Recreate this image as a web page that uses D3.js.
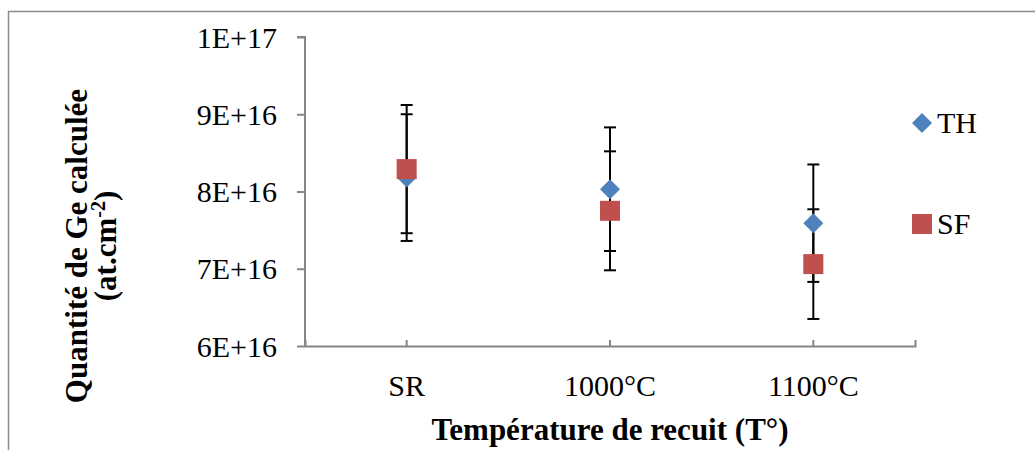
<!DOCTYPE html>
<html>
<head>
<meta charset="utf-8">
<script src="https://cdn.jsdelivr.net/npm/d3@7"></script>
<style>
  html, body { margin: 0; padding: 0; background: #fff; }
  svg { display: block; }
  text { font-family: "Liberation Serif", "Times New Roman", serif; fill: #000; }
</style>
</head>
<body>
<svg id="chart" width="1035" height="450"></svg>
<script>
// ---- data ----
const categories = ["SR", "1000°C", "1100°C"];
const seriesNames = ["TH", "SF"];
const thValues = [8.18e16, 8.03e16, 7.59e16];
const thErrors = [0.82e16, 0.80e16, 0.76e16];
const sfValues = [8.29e16, 7.75e16, 7.06e16];
const sfErrors = [0.83e16, 0.77e16, 0.71e16];
const yTicks = [6e16, 7e16, 8e16, 9e16, 1e17];
const yTickLabels = ["6E+16", "7E+16", "8E+16", "9E+16", "1E+17"];
const xTitle = "Température de recuit (T°)";
const yTitleLine1 = "Quantité de Ge calculée";

const colors = { TH: "#4F81BD", SF: "#C0504D" };

const svg = d3.select("#chart");

// outer frame
svg.append("rect")
  .attr("x", 8.5).attr("y", 11.5)
  .attr("width", 1100).attr("height", 500)
  .attr("fill", "none").attr("stroke", "#8c8c8c").attr("stroke-width", 1.5);

const plot = { left: 305, right: 915, top: 37, bottom: 346 };

const x = d3.scaleBand().domain(categories).range([plot.left, plot.right]);
const y = d3.scaleLinear().domain([6e16, 1e17]).range([plot.bottom, plot.top]);

// y axis
const yAxis = d3.axisLeft(y).tickValues(yTicks)
  .tickFormat((d, i) => yTickLabels[i]).tickSize(8).tickPadding(20);
const gy = svg.append("g").attr("transform", `translate(${plot.left},0)`).call(yAxis);
gy.select(".domain").attr("stroke", "#868686").attr("stroke-width", 2)
  .attr("d", `M-8,${plot.top}H0V${plot.bottom}`);
gy.selectAll(".tick line").attr("stroke", "#868686").attr("stroke-width", 2);
gy.selectAll(".tick text").attr("font-size", 30).attr("font-family", "Liberation Serif")
  .attr("dy", "0.34em");

// x axis
const xAxis = d3.axisBottom(x).tickSize(-6).tickSizeOuter(-6).tickPadding(36);
const gx = svg.append("g").attr("transform", `translate(0,${plot.bottom})`).call(xAxis);
gx.select(".domain").attr("stroke", "#868686").attr("stroke-width", 2);
gx.selectAll(".tick line").attr("stroke", "#868686").attr("stroke-width", 2);
gx.selectAll(".tick text").attr("font-size", 30).attr("font-family", "Liberation Serif")
  .attr("y", 50).attr("dy", 0);

// series data
const series = [
  { name: "TH", values: thValues, errors: thErrors },
  { name: "SF", values: sfValues, errors: sfErrors }
];

const cx = c => x(c) + x.bandwidth() / 2;

// error bars
const eb = svg.append("g");
series.forEach(s => {
  categories.forEach((c, i) => {
    const v = s.values[i], e = s.errors[i];
    const xc = cx(c);
    eb.append("line").attr("x1", xc).attr("x2", xc)
      .attr("y1", y(v + e)).attr("y2", y(v - e))
      .attr("stroke", "#000").attr("stroke-width", 2);
    [v + e, v - e].forEach(t => {
      eb.append("line").attr("x1", xc - 6).attr("x2", xc + 6)
        .attr("y1", y(t)).attr("y2", y(t))
        .attr("stroke", "#000").attr("stroke-width", 2);
    });
  });
});

// markers
const diamond = d3.symbol().type(d3.symbolDiamond2 || d3.symbolSquare);
function drawMarker(g, name, xc, yc) {
  if (name === "TH") {
    const r = 10;
    g.append("path")
      .attr("d", `M${xc},${yc - r}L${xc + r},${yc}L${xc},${yc + r}L${xc - r},${yc}Z`)
      .attr("fill", colors.TH);
  } else {
    const h = 10;
    g.append("rect").attr("x", xc - h).attr("y", yc - h)
      .attr("width", 2 * h).attr("height", 2 * h)
      .attr("fill", colors.SF);
  }
}
const mk = svg.append("g");
series.forEach(s => {
  categories.forEach((c, i) => drawMarker(mk, s.name, cx(c), y(s.values[i])));
});

// legend
const legendY = { TH: 123, SF: 224 };
seriesNames.forEach(n => {
  const g = svg.append("g");
  drawMarker(g, n, 922, legendY[n]);
  g.append("text").attr("x", 937).attr("y", legendY[n] + 10)
    .attr("font-size", 30).text(n);
});

// axis titles
svg.append("text").attr("x", (plot.left + plot.right) / 2).attr("y", 440)
  .attr("text-anchor", "middle").attr("font-size", 31).attr("font-weight", "bold")
  .text(xTitle);

const yt = svg.append("g").attr("transform", "translate(0,246) rotate(-90)");
yt.append("text").attr("x", 0).attr("y", 87)
  .attr("text-anchor", "middle").attr("font-size", 31).attr("font-weight", "bold")
  .text(yTitleLine1);
const l2 = yt.append("text").attr("x", 0).attr("y", 116)
  .attr("text-anchor", "middle").attr("font-size", 31).attr("font-weight", "bold");
l2.append("tspan").text("(at.cm");
l2.append("tspan").attr("font-size", 20).attr("dy", -11).text("-2");
l2.append("tspan").attr("dy", 11).text(")");
</script>
</body>
</html>
